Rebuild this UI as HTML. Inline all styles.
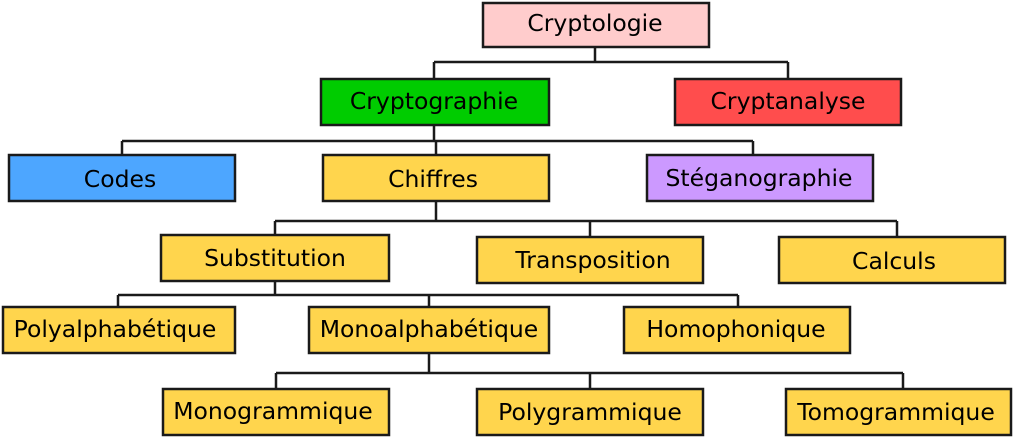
<!DOCTYPE html>
<html><head><meta charset="utf-8"><style>
html,body{margin:0;padding:0;background:#fff;}
svg text{font-family:"DejaVu Sans","Liberation Sans",sans-serif;font-size:23.5px;fill:#000;text-anchor:middle;dominant-baseline:central;}
</style></head><body>
<svg width="1018" height="442" viewBox="0 0 1018 442" xmlns="http://www.w3.org/2000/svg">
<g fill="none" stroke="#1a1a1a" stroke-width="2.5">
<path d="M595 47V62M434 62H788M434 62V78M788 62V78"/>
<path d="M434 125V141M122 141H753M122 141V154M436 141V154M753 141V154"/>
<path d="M436 201V221M275 221H897M275 221V234M590 221V236M897 221V236"/>
<path d="M275 281V295M118 295H738M118 295V306M429 295V306M738 295V306"/>
<path d="M429 353V373M276 373H903M276 373V388M590 373V388M903 373V388"/>
</g>
<g stroke="#1a1a1a" stroke-width="2.5">
<rect x="483" y="3" width="226" height="44" fill="#ffcccc"/>
<rect x="321" y="79" width="228" height="46" fill="#00cc00"/>
<rect x="675" y="79" width="226" height="46" fill="#ff4d4d"/>
<rect x="9" y="155" width="226" height="46" fill="#4da6ff"/>
<rect x="323" y="155" width="226" height="46" fill="#ffd54d"/>
<rect x="647" y="155" width="226" height="46" fill="#cc99ff"/>
<rect x="161" y="235" width="228" height="46" fill="#ffd54d"/>
<rect x="477" y="237" width="226" height="46" fill="#ffd54d"/>
<rect x="779" y="237" width="226" height="46" fill="#ffd54d"/>
<rect x="3" y="307" width="232" height="46" fill="#ffd54d"/>
<rect x="309" y="307" width="240" height="46" fill="#ffd54d"/>
<rect x="624" y="307" width="226" height="46" fill="#ffd54d"/>
<rect x="163" y="389" width="226" height="46" fill="#ffd54d"/>
<rect x="477" y="389" width="226" height="46" fill="#ffd54d"/>
<rect x="786" y="389" width="225" height="46" fill="#ffd54d"/>
</g>
<text x="595" y="23">Cryptologie</text>
<text x="434" y="101">Cryptographie</text>
<text x="788" y="101">Cryptanalyse</text>
<text x="120" y="179">Codes</text>
<text x="433" y="179">Chiffres</text>
<text x="759" y="178">Stéganographie</text>
<text x="275" y="258">Substitution</text>
<text x="593" y="260">Transposition</text>
<text x="894" y="261">Calculs</text>
<text x="115" y="329">Polyalphabétique</text>
<text x="429" y="329">Monoalphabétique</text>
<text x="736" y="329">Homophonique</text>
<text x="273" y="411">Monogrammique</text>
<text x="590" y="412">Polygrammique</text>
<text x="896" y="412">Tomogrammique</text>
</svg>
</body></html>
